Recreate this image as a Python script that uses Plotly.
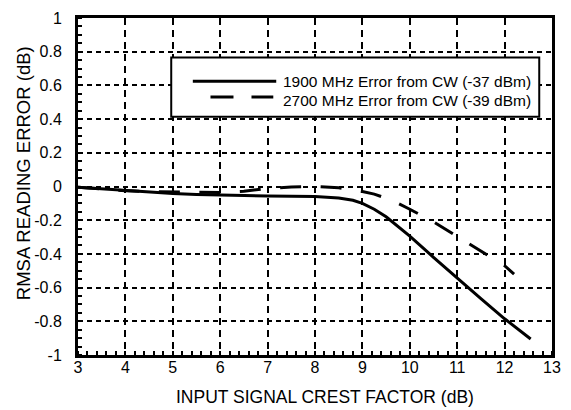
import plotly.graph_objects as go

# ---- data ----
x_1900 = [3, 3.5, 4, 4.5, 5, 5.5, 6, 6.5, 7, 7.5, 8, 8.5, 8.8, 9, 9.25, 9.5, 9.75, 10, 10.5, 11, 11.5, 12, 12.3, 12.55]
y_1900 = [-0.005, -0.015, -0.025, -0.035, -0.042, -0.048, -0.052, -0.055, -0.057, -0.058, -0.059, -0.068, -0.082,
          -0.100, -0.135, -0.180, -0.235, -0.295, -0.420, -0.545, -0.665, -0.785, -0.850, -0.905]

x_2700 = [3, 3.5, 4, 4.5, 5, 5.5, 6, 6.5, 7, 7.5, 8, 8.5, 8.8, 9, 9.25, 9.5, 9.75, 10, 10.5, 11, 11.5, 12, 12.2]
y_2700 = [-0.005, -0.015, -0.025, -0.030, -0.032, -0.034, -0.035, -0.028, -0.012, -0.003, 0.0, -0.008, -0.020,
          -0.030, -0.045, -0.070, -0.100, -0.135, -0.210, -0.295, -0.380, -0.470, -0.520]

name_1900 = "1900 MHz Error from CW (-37 dBm)"
name_2700 = "2700 MHz Error from CW (-39 dBm)"
x_title = "INPUT SIGNAL CREST FACTOR (dB)"
y_title = "RMSA READING ERROR (dB)"
x_ticks = [3, 4, 5, 6, 7, 8, 9, 10, 11, 12, 13]
y_ticks = [-1, -0.8, -0.6, -0.4, -0.2, 0, 0.2, 0.4, 0.6, 0.8, 1]
y_ticktext = ["-1", "-0.8", "-0.6", "-0.4", "-0.2", "0", "0.2", "0.4", "0.6", "0.8", "1"]

# ---- layout geometry (pixels) ----
W, H = 571, 410
L, R, T, B = 78, 10, 14, 55
PW, PH = W - L - R, H - T - B
FONT = "Liberation Sans, Arial, Helvetica, sans-serif"


def px(xp):
    return (xp - L) / PW


def py(yp):
    return (H - B - yp) / PH


fig = go.Figure()
fig.add_trace(go.Scatter(x=x_2700, y=y_2700, mode="lines", name=name_2700,
                         line=dict(color="black", width=3, dash="21px,19.5px"), showlegend=False))
fig.add_trace(go.Scatter(x=x_1900, y=y_1900, mode="lines", name=name_1900,
                         line=dict(color="black", width=3), showlegend=False))

axis_common = dict(showline=True, linewidth=3, linecolor="black", mirror=True,
                   gridcolor="black", gridwidth=1.8, zeroline=False,
                   tickfont=dict(family=FONT, size=16, color="black"), ticks="")

fig.update_xaxes(range=[3, 13], tickvals=x_ticks, griddash="7px,5px",
                 minor=dict(dtick=0.2, ticks="inside", ticklen=4, tickwidth=1.5, tickcolor="black", showgrid=False),
                 ticklabelstandoff=-4, **axis_common)
fig.update_yaxes(range=[-1, 1], tickvals=y_ticks, ticktext=y_ticktext, griddash="5px,4px",
                 minor=dict(dtick=0.05, ticks="inside", ticklen=4, tickwidth=1.5, tickcolor="black", showgrid=False),
                 ticklabelstandoff=10, **axis_common)

shapes = [
    # legend box
    dict(type="rect", xref="paper", yref="paper", x0=px(173), x1=px(548), y0=py(114), y1=py(54),
         line=dict(color="black", width=2), fillcolor="white", layer="above"),
    # legend samples
    dict(type="line", xref="paper", yref="paper", x0=px(195), x1=px(280), y0=py(78), y1=py(78),
         line=dict(color="black", width=3), layer="above"),
    dict(type="line", xref="paper", yref="paper", x0=px(213), x1=px(277), y0=py(94), y1=py(94),
         line=dict(color="black", width=3, dash="23px,18px"), layer="above"),
]

annotations = [
    dict(text=name_1900, xref="paper", yref="paper", x=px(285), y=py(78), xanchor="left", yanchor="middle",
         showarrow=False, font=dict(family=FONT, size=15.5, color="black")),
    dict(text=name_2700, xref="paper", yref="paper", x=px(285), y=py(97), xanchor="left", yanchor="middle",
         showarrow=False, font=dict(family=FONT, size=15.5, color="black")),
    dict(text=x_title, xref="paper", yref="paper", x=px(330), y=py(398), xanchor="center", yanchor="middle",
         showarrow=False, font=dict(family=FONT, size=17.5, color="black")),
    dict(text=y_title, xref="paper", yref="paper", x=px(22), y=py(171), xanchor="center", yanchor="middle",
         textangle=-90, showarrow=False, font=dict(family=FONT, size=18.5, color="black")),
]

fig.update_layout(width=W, height=H, margin=dict(l=L, r=R, t=T, b=B),
                  plot_bgcolor="white", paper_bgcolor="white",
                  shapes=shapes, annotations=annotations, showlegend=False,
                  font=dict(family=FONT, color="black"))

fig.write_html("out.html", config={"displayModeBar": False},
               post_script="document.body.style.margin='0';document.body.style.overflow='hidden';")
